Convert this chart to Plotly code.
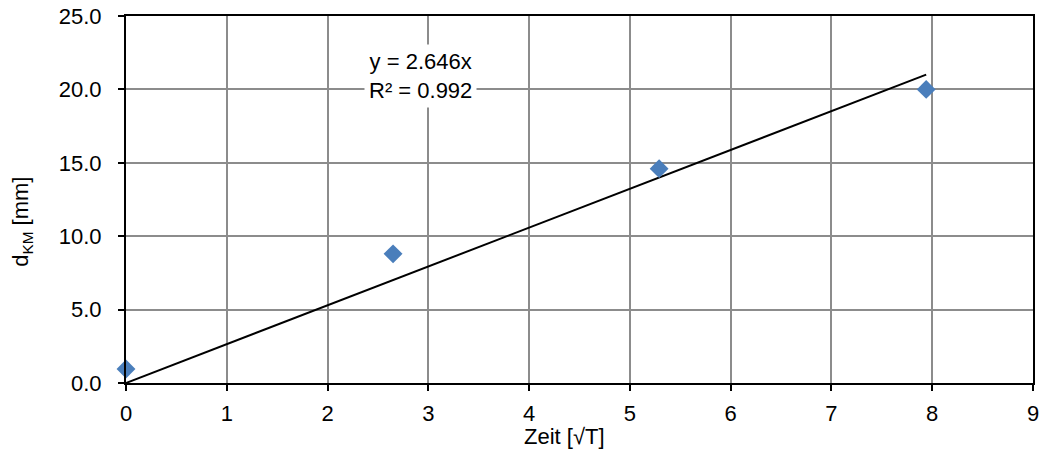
import plotly.graph_objects as go

x_vals = [0.0, 2.65, 5.29, 7.94]
y_vals = [0.95, 8.8, 14.6, 20.0]
slope = 2.646
r2 = 0.992
x_ticks = [0, 1, 2, 3, 4, 5, 6, 7, 8, 9]
y_ticks = [0, 5, 10, 15, 20, 25]

fit_x = [0.0, max(x_vals)]
fit_y = [slope * v for v in fit_x]

FONT = "Liberation Sans"
FS = 22
TXT = dict(family=FONT, size=FS, color="black")

fig = go.Figure()
fig.add_trace(go.Scatter(x=fit_x, y=fit_y, mode="lines",
                         line=dict(color="black", width=2), showlegend=False))
fig.add_trace(go.Scatter(x=x_vals, y=y_vals, mode="markers",
                         marker=dict(symbol="diamond", size=14.5, color="#4A7EBB"),
                         showlegend=False, cliponaxis=False))

fig.add_annotation(x=2.92, y=20.9, xref="x", yref="y",
                   text=f"y = {slope:.3f}x<br>R² = {r2:.3f}",
                   showarrow=False, bgcolor="white", font=TXT,
                   align="center", borderpad=4)

# axis titles as positioned text
fig.add_annotation(x=-0.1147, y=0.439, xref="paper", yref="paper",
                   text="d<sub>KM</sub> [mm]", textangle=-90, showarrow=False,
                   font=TXT, xanchor="center", yanchor="middle")
fig.add_annotation(x=0.484, y=-0.147, xref="paper", yref="paper",
                   text="Zeit [√T]", showarrow=False,
                   font=TXT, xanchor="center", yanchor="middle")

fig.update_xaxes(range=[0, 9], tickvals=x_ticks, ticktext=[str(t) for t in x_ticks],
                 showgrid=True, gridcolor="#8C8C8C", gridwidth=1.5,
                 showline=True, linecolor="black", linewidth=2, mirror=True,
                 ticks="outside", ticklen=6, tickcolor="black", tickwidth=1.5,
                 tickfont=TXT, zeroline=False, ticklabelstandoff=4,
                 automargin=False, ticklabeloverflow="allow")
fig.update_yaxes(range=[0, 25], tickvals=y_ticks, ticktext=[f"{t:.1f}" for t in y_ticks],
                 showgrid=True, gridcolor="#8C8C8C", gridwidth=1.5,
                 showline=True, linecolor="black", linewidth=2, mirror=True,
                 ticks="outside", ticklen=6, tickcolor="black", tickwidth=1.5,
                 tickfont=TXT, zeroline=False, ticklabelstandoff=12,
                 ticklabeloverflow="allow", automargin=False)

fig.update_layout(width=1040, height=455, margin=dict(l=126, r=7, t=16, b=72),
                  plot_bgcolor="white", paper_bgcolor="white",
                  font=TXT)
fig.write_html("out.html", config={"displayModeBar": False},
               post_script="document.body.style.margin='0';")
